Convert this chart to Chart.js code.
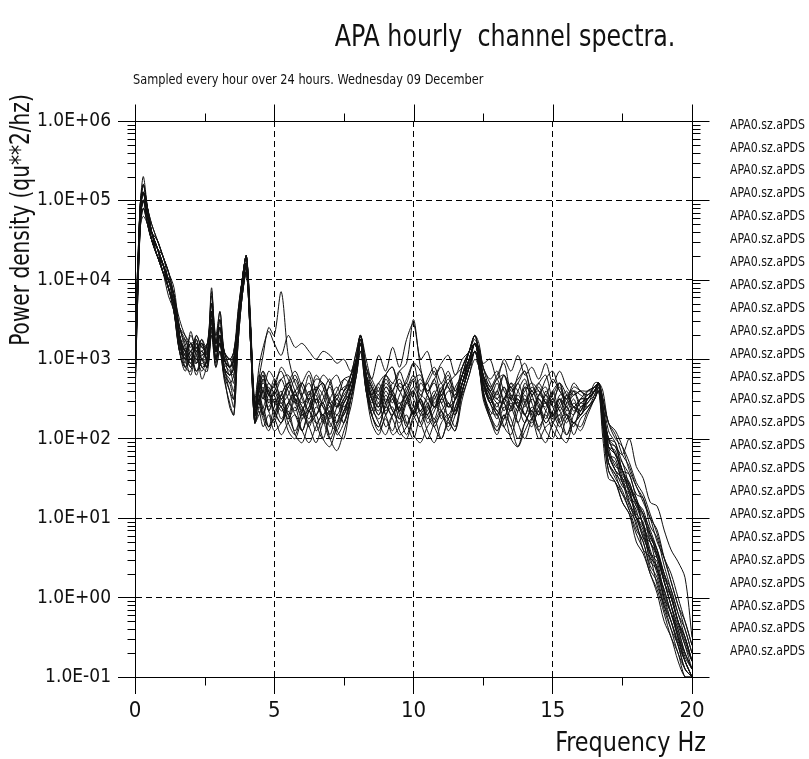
<!DOCTYPE html>
<html>
<head>
<meta charset="utf-8">
<script src="https://cdn.jsdelivr.net/npm/chart.js@4.4.0/dist/chart.umd.min.js"></script>
<style>
  html, body { margin: 0; padding: 0; background: #fff; }
  #wrap { position: relative; width: 809px; height: 759px; }
</style>
</head>
<body>
<div id="wrap"><canvas id="myChart"></canvas></div>
<script>
// frequency axis (Hz), shared by all hourly spectra
const freqs = [0, 0.1, 0.2, 0.3, 0.45, 0.6, 0.8, 1.0, 1.2, 1.4,
  1.6, 1.8, 2.0, 2.2, 2.4, 2.6, 2.75, 2.9, 3.05, 3.2,
  3.4, 3.55, 3.7, 3.85, 4.0, 4.15, 4.3, 4.45, 4.6, 4.8,
  5.0, 5.25, 5.5, 5.75, 6.0, 6.25, 6.5, 6.75, 7.0, 7.25,
  7.5, 7.75, 7.95, 8.1, 8.3, 8.5, 8.75, 9.0, 9.25, 9.5,
  9.75, 10.0, 10.25, 10.5, 10.75, 11.0, 11.25, 11.5, 11.75, 12.0,
  12.2, 12.35, 12.5, 12.75, 13.0, 13.25, 13.5, 13.75, 14.0, 14.25,
  14.5, 14.75, 15.0, 15.25, 15.5, 15.75, 16.0, 16.25, 16.5, 16.65,
  16.8, 17.0, 17.25, 17.5, 17.75, 18.0, 18.25, 18.5, 18.75, 19.0,
  19.25, 19.5, 19.75, 20.0];

// log10 of power density, one array per hour
const h01 = [2.6,3.9,4.8,5.2,4.9,4.6,4.4,4.2,3.9,3.7, 3.3,3.0,3.35,3.1,3.25,2.95,3.7,3.2,3.5,3.05, 2.8,3.0,3.5,3.9,4.2,3.4,2.4,2.9,3.15,3.35, 3.2,3.05,3.3,3.15,3.2,3.1,3.0,3.1,3.05,2.95, 3.0,2.85,3.1,3.3,3.0,2.75,3.05,2.85,3.15,2.9, 3.25,3.45,3.0,3.1,2.8,2.95,3.05,2.8,3.0,3.1, 3.3,3.1,2.95,3.0,2.75,3.0,2.85,3.05,2.8,2.9, 2.75,2.95,2.7,2.85,2.65,2.55,2.6,2.5,2.6,2.7, 2.4,2.0,1.9,1.8,2.0,1.65,1.5,1.2,1.15,0.85, 0.6,0.45,0.25,-0.5];
const h02 = [3.0,4.1,5.0,5.1,4.8,4.5,4.4,4.1,4.0,3.7, 3.4,3.15,3.0,2.95,3.2,3.05,3.55,3.1,3.3,2.85, 2.75,2.6,3.4,3.9,4.2,3.2,2.3,2.75,3.05,3.4, 3.3,3.85,3.05,2.7,2.55,2.8,2.45,2.6,2.75,2.4, 2.6,2.8,3.0,3.2,2.7,2.45,2.65,2.3,2.6,2.75, 2.5,2.35,2.7,2.55,2.4,2.6,2.8,2.5,2.7,2.95, 3.2,3.0,2.7,2.45,2.6,2.8,2.5,2.35,2.65,2.55, 2.3,2.6,2.45,2.7,2.35,2.5,2.3,2.45,2.55,2.7, 2.2,1.8,1.75,1.45,1.35,1.05,0.95,0.55,0.45,0.05, -0.2,-0.45,-0.75,-0.9];
const h03 = [2.8,4.0,4.9,5.0,4.8,4.6,4.4,4.2,4.0,3.8, 3.2,2.9,2.85,3.25,2.9,3.0,3.85,3.2,3.6,3.1, 2.9,2.7,3.4,3.9,4.2,3.3,2.2,2.55,2.35,2.15, 2.4,2.55,2.3,2.1,2.35,2.5,2.2,2.0,2.3,2.45, 2.2,2.6,2.9,3.2,2.7,2.3,2.15,2.45,2.6,2.3, 2.05,2.3,2.5,2.2,2.35,2.55,2.25,2.1,2.6,2.9, 3.1,2.95,2.6,2.3,2.45,2.15,2.05,2.35,2.55,2.3, 2.1,2.35,2.5,2.2,2.05,2.3,2.45,2.4,2.55,2.7, 2.3,1.7,1.55,1.45,1.15,1.0,0.85,0.45,0.35,-0.05, -0.3,-0.55,-0.8,-1.0];
const h04 = [3.2,4.2,5.0,5.3,4.9,4.6,4.3,4.2,3.9,3.7, 3.3,3.1,2.9,3.3,3.15,3.2,3.45,2.95,3.25,2.9, 2.8,2.9,3.5,4.0,4.3,3.4,2.4,2.45,2.75,2.6, 2.3,2.55,2.7,2.45,2.3,2.5,2.65,2.4,2.25,2.5, 2.35,2.6,3.0,3.3,2.8,2.55,2.4,2.75,2.55,2.35, 2.6,2.75,2.45,2.3,2.55,2.7,2.4,2.5,2.8,3.1, 3.25,3.1,2.75,2.5,2.7,2.45,2.35,2.6,2.75,2.45, 2.3,2.55,2.4,2.2,2.45,2.6,2.45,2.55,2.6,2.7, 2.3,1.9,1.85,1.5,1.45,1.15,1.05,0.7,0.55,0.25, 0.05,-0.3,-0.55,-0.8];
const h05 = [2.5,3.8,4.7,4.9,4.8,4.5,4.4,4.2,4.0,3.8, 3.1,2.85,3.05,2.8,3.0,2.95,3.35,3.0,3.1,2.75, 2.45,2.3,3.2,3.8,4.1,3.2,2.2,2.35,2.15,2.3, 2.1,2.2,2.35,2.05,1.95,2.2,2.3,2.0,1.9,2.15, 2.3,2.5,2.9,3.2,2.6,2.2,2.05,2.3,2.4,2.1, 2.0,2.25,2.35,2.1,1.95,2.2,2.3,2.15,2.6,2.9, 3.1,2.95,2.55,2.25,2.1,2.3,2.0,1.9,2.2,2.35, 2.1,1.95,2.2,2.3,2.05,2.2,2.15,2.35,2.5,2.65, 2.2,1.6,1.45,1.3,1.1,0.85,0.7,0.35,0.2,-0.15, -0.4,-0.6,-0.9,-1.0];
const h06 = [3.0,4.1,4.9,5.1,4.9,4.7,4.5,4.3,4.1,3.8, 3.4,3.3,3.15,3.25,3.05,3.2,3.6,3.3,3.4,3.1, 3.0,3.1,3.5,4.0,4.3,3.5,2.3,2.65,2.8,2.55, 2.7,2.85,2.6,2.45,2.7,2.55,2.8,2.65,2.4,2.6, 2.75,2.7,3.0,3.3,2.9,2.65,2.5,2.8,2.9,2.6, 2.75,2.95,2.6,2.7,2.85,2.55,2.7,2.8,2.9,3.1, 3.2,3.15,2.9,2.65,2.8,2.95,2.6,2.7,2.85,2.55, 2.7,2.8,2.5,2.65,2.4,2.6,2.55,2.5,2.7,2.7, 2.5,2.1,1.95,1.7,1.55,1.3,1.25,0.9,0.75,0.4, 0.1,-0.2,-0.4,-0.7];
const h07 = [2.7,3.9,4.8,5.0,4.7,4.5,4.3,4.1,3.9,3.6, 3.2,3.05,2.9,3.0,2.85,3.05,3.9,3.1,3.3,2.95, 2.85,2.8,3.4,3.9,4.2,3.3,2.3,2.5,2.3,2.55, 2.35,2.2,2.45,2.3,2.1,2.35,2.5,2.25,2.0,2.2, 2.45,2.6,2.9,3.25,2.7,2.35,2.55,2.3,2.1,2.4, 2.55,2.3,2.15,2.4,2.6,2.35,2.2,2.4,2.7,3.0, 3.2,3.0,2.65,2.45,2.25,2.5,2.4,2.2,2.45,2.6, 2.4,2.2,2.35,2.5,2.3,2.15,2.4,2.45,2.6,2.7, 2.3,1.85,1.6,1.5,1.35,1.0,0.9,0.6,0.35,0.1, -0.2,-0.5,-0.7,-0.9];
const h08 = [3.3,4.2,5.0,5.1,4.9,4.6,4.4,4.2,4.0,3.8, 3.3,2.95,3.2,3.05,2.9,2.85,3.4,3.0,3.2,3.0, 3.0,2.9,3.6,4.0,4.2,3.4,2.5,2.8,2.55,2.4, 2.6,2.75,2.5,2.35,2.55,2.7,2.45,2.3,2.5,2.65, 2.45,2.8,3.0,3.2,2.8,2.5,2.35,2.6,2.45,2.7, 2.55,2.3,2.5,2.7,2.4,2.55,2.65,2.35,2.7,3.0, 3.2,3.1,2.8,2.55,2.4,2.65,2.5,2.7,2.45,2.3, 2.55,2.65,2.4,2.5,2.25,2.45,2.35,2.6,2.65,2.7, 2.4,1.9,1.8,1.55,1.4,1.25,0.9,0.8,0.5,0.2, -0.1,-0.35,-0.6,-0.8];
const h09 = [2.9,4.0,4.8,4.9,4.7,4.5,4.3,4.1,3.9,3.6, 3.1,3.0,2.8,3.1,2.75,2.95,3.3,2.9,3.1,2.8, 2.7,2.5,3.2,3.8,4.1,3.2,2.3,2.4,2.25,2.1, 2.3,2.45,2.2,2.05,2.3,2.15,1.95,2.2,2.35,2.1, 2.0,2.5,2.8,3.1,2.6,2.4,2.2,2.05,2.3,2.45, 2.2,2.0,2.3,2.4,2.15,2.0,2.25,2.35,2.55,2.8, 3.1,2.9,2.55,2.3,2.1,2.25,2.45,2.2,2.0,2.25, 2.35,2.1,2.0,2.25,2.3,2.05,2.25,2.35,2.5,2.6, 2.2,1.7,1.5,1.35,1.1,0.95,0.6,0.5,0.15,-0.1, -0.4,-0.7,-0.9,-1.0];
const h10 = [2.6,4.0,4.9,5.1,4.8,4.6,4.4,4.2,3.9,3.7, 3.2,3.25,3.05,3.15,3.0,3.1,3.6,3.1,3.5,3.0, 2.9,3.0,3.5,3.9,4.2,3.3,2.4,2.7,2.85,2.55, 2.75,2.5,2.65,2.8,2.55,2.35,2.6,2.7,2.45,2.3, 2.5,2.7,3.0,3.3,2.8,2.65,2.45,2.7,2.6,2.85, 2.95,3.5,2.9,2.6,2.75,2.45,2.6,2.55,2.8,3.0, 3.2,3.05,2.8,2.6,2.75,2.5,2.65,2.4,2.7,2.55, 2.65,2.45,2.6,2.35,2.55,2.6,2.4,2.5,2.6,2.7, 2.4,2.0,1.95,1.6,1.55,1.25,1.05,0.85,0.6,0.3, 0.1,-0.2,-0.5,-0.8];
const h11 = [3.1,4.1,4.9,5.0,4.8,4.5,4.4,4.2,4.0,3.7, 3.3,3.1,2.95,3.05,3.2,2.95,3.5,3.1,3.3,2.9, 2.8,2.9,3.4,4.0,4.3,3.3,2.3,2.5,2.65,2.35, 2.5,2.25,2.45,2.6,2.3,2.4,2.55,2.2,2.35,2.5, 2.3,2.7,3.0,3.2,2.7,2.5,2.3,2.55,2.35,2.2, 2.45,2.6,2.3,2.35,2.55,2.25,2.45,2.3,2.6,2.9, 3.2,3.0,2.7,2.55,2.3,2.5,2.35,2.55,2.4,2.6, 2.45,2.25,2.5,2.35,2.2,2.4,2.35,2.5,2.6,2.7, 2.3,1.8,1.7,1.45,1.25,1.1,0.75,0.7,0.35,0.1, -0.2,-0.4,-0.7,-0.9];
const h12 = [2.8,3.9,4.8,5.0,4.9,4.6,4.4,4.1,4.0,3.8, 3.3,3.1,3.2,2.95,3.05,3.1,3.7,3.2,3.3,3.0, 2.9,3.0,3.4,3.9,4.2,3.3,2.4,2.6,2.75,2.45, 2.6,2.4,2.65,2.5,2.35,2.6,2.3,2.45,2.15,2.4, 2.55,2.7,3.0,3.25,2.8,2.6,2.4,2.65,2.5,2.35, 2.65,2.4,2.55,2.45,2.25,2.5,2.4,2.65,2.8,3.0, 3.2,3.1,2.8,2.45,2.6,2.35,2.55,2.4,2.65,2.25, 2.5,2.35,2.25,2.5,2.4,2.3,2.5,2.5,2.6,2.7, 2.3,1.9,1.65,1.6,1.3,1.15,0.9,0.55,0.5,0.2, -0.1,-0.5,-0.8,-1.0];
const h13 = [3.0,4.0,4.9,5.1,4.8,4.6,4.5,4.3,4.1,3.8, 3.4,3.2,3.0,3.15,3.1,3.0,3.6,3.0,3.4,3.0, 3.0,3.0,3.5,4.0,4.3,3.4,2.3,2.7,2.5,2.65, 2.45,2.6,2.3,2.55,2.4,2.25,2.5,2.4,2.3,2.55, 2.4,2.6,3.0,3.3,2.8,2.5,2.6,2.35,2.5,2.25, 2.5,2.6,2.35,2.5,2.4,2.65,2.4,2.5,2.8,3.1, 3.3,3.1,2.8,2.6,2.5,2.65,2.4,2.5,2.3,2.5, 2.4,2.55,2.3,2.4,2.55,2.4,2.3,2.5,2.6,2.7, 2.4,2.0,1.8,1.7,1.4,1.2,1.05,0.75,0.6,0.3, 0.0,-0.3,-0.5,-0.8];
const h14 = [2.7,3.9,4.7,4.9,4.7,4.5,4.3,4.1,3.9,3.6, 3.1,2.9,3.1,2.85,3.0,2.9,3.4,3.0,3.2,2.8, 2.6,2.4,3.3,3.8,4.1,3.2,2.2,2.4,2.6,2.35, 2.2,2.5,2.25,2.4,2.1,2.35,2.2,2.3,2.05,2.3, 2.2,2.5,2.8,3.2,2.7,2.3,2.45,2.15,2.3,2.4, 2.15,2.4,2.2,2.45,2.2,2.3,2.15,2.4,2.6,2.9, 3.1,2.9,2.6,2.35,2.3,2.45,2.15,2.4,2.3,2.15, 2.4,2.2,2.3,2.15,2.3,2.2,2.3,2.4,2.5,2.6, 2.1,1.6,1.45,1.2,1.05,0.8,0.6,0.3,0.1,-0.2, -0.5,-0.7,-1.0,-1.0];
const h15 = [3.1,4.1,5.0,5.2,4.9,4.7,4.5,4.3,4.1,3.8, 3.5,3.3,3.2,3.1,3.25,3.1,3.6,3.2,3.4,3.1, 2.9,3.0,3.5,4.0,4.2,3.4,2.4,2.7,2.85,2.7, 2.65,2.9,2.75,2.55,2.7,2.85,2.6,2.45,2.7,2.8, 2.6,2.8,3.1,3.3,2.9,2.7,2.55,2.8,2.9,2.65, 2.7,2.95,2.85,2.6,2.75,2.9,2.65,2.55,2.9,3.1, 3.2,3.1,2.9,2.75,2.85,2.6,2.5,2.8,2.95,2.7, 2.55,2.75,2.85,2.6,2.5,2.7,2.6,2.55,2.65,2.7, 2.5,2.2,2.05,1.8,1.65,1.4,1.25,1.0,0.85,0.5, 0.2,-0.1,-0.3,-0.6];
const h16 = [2.9,4.0,4.8,5.0,4.8,4.5,4.3,4.2,4.0,3.7, 3.2,3.0,3.1,3.15,2.9,3.0,3.5,3.1,3.3,3.0, 2.9,3.0,3.4,3.9,4.2,3.3,2.3,2.6,2.4,2.6, 2.35,2.55,2.7,2.5,2.25,2.4,2.65,2.55,2.3,2.2, 2.45,2.6,2.9,3.2,2.8,2.55,2.7,2.45,2.3,2.55, 2.7,2.5,2.35,2.55,2.7,2.45,2.3,2.5,2.7,3.0, 3.2,3.0,2.7,2.55,2.35,2.5,2.7,2.45,2.3,2.55, 2.6,2.45,2.3,2.55,2.5,2.35,2.45,2.5,2.6,2.7, 2.6,2.2,2.1,1.9,1.6,1.4,1.2,1.0,0.7,0.5, 0.2,-0.1,-0.4,-0.7];
const h17 = [2.6,3.8,4.8,5.0,4.7,4.5,4.4,4.1,3.9,3.6, 3.1,3.05,2.95,3.2,3.0,2.9,3.5,3.0,3.2,2.9, 2.6,2.5,3.3,3.9,4.2,3.2,2.2,2.5,2.3,2.15, 2.25,2.4,2.1,2.0,2.25,2.35,2.1,2.25,2.4,2.05, 2.2,2.5,2.9,3.2,2.6,2.3,2.15,2.4,2.25,2.05, 2.15,2.35,2.2,2.0,2.2,2.35,2.1,2.3,2.6,2.9, 3.1,2.9,2.6,2.3,2.15,2.4,2.25,2.0,2.2,2.35, 2.15,2.3,2.1,2.0,2.25,2.2,2.3,2.4,2.5,2.65, 2.2,1.7,1.55,1.3,1.2,0.9,0.7,0.4,0.25,-0.1, -0.3,-0.6,-0.9,-1.0];
const h18 = [3.2,4.2,5.0,5.2,4.9,4.6,4.4,4.3,4.0,3.8, 3.3,3.05,3.3,3.15,3.2,3.0,3.6,3.1,3.3,3.0, 2.9,3.1,3.5,4.0,4.3,3.4,2.3,2.6,2.8,2.55, 2.55,2.75,2.8,2.6,2.45,2.55,2.75,2.7,2.5,2.4, 2.6,2.7,3.0,3.3,2.8,2.55,2.7,2.8,2.6,2.45, 2.55,2.75,2.8,2.55,2.45,2.6,2.75,2.6,2.8,3.1, 3.3,3.1,2.8,2.6,2.75,2.8,2.55,2.45,2.6,2.7, 2.6,2.45,2.55,2.7,2.55,2.4,2.5,2.6,2.6,2.7, 2.4,1.95,1.9,1.6,1.45,1.2,1.1,0.8,0.55,0.3, 0.0,-0.3,-0.5,-0.8];
const h19 = [2.8,4.0,4.9,5.1,4.8,4.6,4.3,4.2,3.9,3.7, 3.2,3.0,3.1,3.0,3.1,3.0,3.4,3.0,3.2,2.9, 2.8,2.9,3.4,3.9,4.2,3.3,2.3,2.45,2.3,2.5, 2.35,2.2,2.4,2.55,2.4,2.2,2.3,2.45,2.2,2.1, 2.35,2.6,2.9,3.2,2.7,2.4,2.25,2.4,2.55,2.35, 2.2,2.35,2.5,2.3,2.15,2.35,2.45,2.3,2.7,3.0, 3.2,3.0,2.7,2.45,2.3,2.15,2.4,2.5,2.3,2.2, 2.35,2.45,2.25,2.3,2.4,2.2,2.35,2.5,2.6,2.7, 2.3,1.8,1.6,1.5,1.2,1.0,0.75,0.55,0.3,0.0, -0.3,-0.6,-0.8,-1.0];
const h20 = [3.0,4.1,4.9,5.0,4.8,4.6,4.4,4.2,4.0,3.8, 3.3,3.1,3.2,3.2,3.0,3.2,3.7,3.2,3.4,3.1, 3.0,3.0,3.5,4.0,4.3,3.3,2.4,2.6,2.5,2.7, 2.55,2.35,2.45,2.6,2.7,2.45,2.3,2.5,2.65,2.4, 2.5,2.7,3.0,3.25,2.8,2.5,2.4,2.65,2.55,2.35, 2.5,2.65,2.45,2.3,2.5,2.6,2.45,2.35,2.7,3.0, 3.2,3.1,2.8,2.6,2.45,2.5,2.65,2.4,2.5,2.35, 2.55,2.45,2.3,2.45,2.6,2.4,2.5,2.5,2.6,2.7, 2.4,2.0,1.8,1.6,1.35,1.2,0.9,0.7,0.5,0.2, -0.1,-0.4,-0.7,-0.9];
const h21 = [2.5,3.8,4.7,4.8,4.7,4.5,4.3,4.1,3.8,3.6, 3.1,2.9,3.0,2.85,2.95,2.9,3.3,2.9,3.1,2.8, 2.4,2.3,3.2,3.8,4.1,3.2,2.2,2.3,2.4,2.15, 2.25,2.05,2.2,2.3,2.1,1.95,2.15,2.3,2.0,1.85, 2.1,2.4,2.8,3.1,2.6,2.3,2.1,2.25,2.05,2.15, 2.3,2.05,1.95,2.15,2.25,2.0,2.2,2.1,2.5,2.8, 3.0,2.9,2.5,2.25,2.05,2.3,2.15,1.9,2.1,2.25, 2.0,2.15,2.2,2.05,1.95,2.2,2.1,2.3,2.5,2.6, 2.0,1.5,1.45,1.2,1.05,0.7,0.55,0.3,0.05,-0.3, -0.5,-0.8,-1.0,-1.0];
const h22 = [3.0,4.1,4.9,5.1,4.9,4.6,4.5,4.3,4.1,3.9, 3.4,3.25,3.1,3.3,3.15,3.1,3.8,3.3,3.6,3.1, 3.0,3.1,3.6,4.0,4.3,3.4,2.4,2.7,2.6,2.85, 2.75,2.5,2.7,2.85,2.65,2.5,2.6,2.8,2.7,2.5, 2.75,2.8,3.0,3.3,2.9,2.75,2.6,2.8,2.7,2.85, 2.65,2.8,2.55,2.75,2.9,2.7,2.85,2.6,2.9,3.1, 3.3,3.2,2.9,2.7,2.55,2.8,2.65,2.75,2.85,2.6, 2.7,2.55,2.75,2.6,2.5,2.65,2.6,2.55,2.65,2.7, 2.5,2.2,2.0,1.9,1.7,1.45,1.3,1.05,0.8,0.5, 0.3,0.0,-0.3,-0.6];
const h23 = [2.7,3.9,4.8,5.0,4.8,4.5,4.3,4.1,3.9,3.7, 3.2,3.0,3.1,3.0,3.0,3.0,3.5,3.1,3.2,2.9, 2.7,2.8,3.4,3.9,4.2,3.3,2.3,2.5,2.6,2.35, 2.5,2.4,2.25,2.5,2.35,2.15,2.4,2.3,2.45,2.2, 2.35,2.6,2.9,3.2,2.7,2.5,2.3,2.5,2.35,2.25, 2.45,2.3,2.5,2.25,2.4,2.35,2.25,2.5,2.7,2.9, 3.1,3.0,2.7,2.5,2.35,2.25,2.5,2.4,2.2,2.4, 2.3,2.5,2.2,2.4,2.3,2.4,2.3,2.5,2.6,2.7, 2.2,1.8,1.6,1.4,1.3,1.0,0.8,0.5,0.4,0.0, -0.2,-0.5,-0.8,-1.0];
const h24 = [3.1,4.1,5.0,5.1,4.8,4.6,4.4,4.2,4.0,3.8, 3.3,3.1,3.2,3.1,3.1,3.2,3.6,3.1,3.3,3.0, 2.9,3.0,3.5,4.0,4.2,3.3,2.4,2.6,2.7,2.6, 2.65,2.45,2.55,2.75,2.5,2.35,2.6,2.7,2.45,2.55, 2.65,2.7,3.0,3.2,2.8,2.65,2.5,2.45,2.7,2.6, 2.45,2.6,2.75,2.55,2.4,2.5,2.7,2.5,2.8,3.0, 3.2,3.0,2.8,2.65,2.5,2.45,2.7,2.6,2.45,2.65, 2.5,2.4,2.6,2.7,2.45,2.55,2.6,2.6,2.65,2.7, 2.3,1.9,1.8,1.6,1.4,1.2,1.0,0.8,0.6,0.2, 0.0,-0.3,-0.6,-0.9];

const hourly = [h01, h02, h03, h04, h05, h06, h07, h08, h09, h10, h11, h12,
                h13, h14, h15, h16, h17, h18, h19, h20, h21, h22, h23, h24];
const seriesLabels = hourly.map(() => 'APA0.sz.aPDS');

// axis ticks
const xTicks = [0, 5, 10, 15, 20];
const xMinorTicks = [2.5, 7.5, 12.5, 17.5];
const yTickExps = [-1, 0, 1, 2, 3, 4, 5, 6];

const FONT = '"Liberation Sans Narrow", "DejaVu Sans Condensed", "Arial Narrow", sans-serif';

function expLabel(v) {
  const e = Math.round(Math.log10(v));
  return '1.0E' + (e < 0 ? '-' : '+') + String(Math.abs(e)).padStart(2, '0');
}

// squeezed text, the original plot uses a narrow plotter font
function narrowText(ctx, text, x, y, size, sx, align, rot) {
  ctx.save();
  ctx.translate(x, y);
  if (rot) ctx.rotate(rot);
  ctx.scale(sx, 1);
  ctx.font = size + 'px ' + FONT;
  ctx.textAlign = align;
  ctx.textBaseline = 'middle';
  ctx.fillText(text, 0, 0);
  ctx.restore();
}

// frame, extra tick marks and the free text around the plot
const framePlugin = {
  id: 'framePlugin',
  beforeDraw(chart) {
    const ctx = chart.ctx;
    ctx.save();
    ctx.fillStyle = '#fff';
    ctx.fillRect(0, 0, chart.width, chart.height);
    ctx.restore();
  },
  afterDraw(chart) {
    const {ctx, chartArea: a, scales: {x, y}} = chart;
    const L = Math.round(a.left) + 0.5, R = Math.round(a.right) + 0.5;
    const T = Math.round(a.top) + 0.5, B = Math.round(a.bottom) + 0.5;
    ctx.save();
    ctx.strokeStyle = '#000';
    ctx.lineWidth = 1;
    ctx.beginPath();
    ctx.moveTo(L, T); ctx.lineTo(R, T); ctx.lineTo(R, B);
    // y ticks: minor left/right, major right
    yTickExps.forEach(e => {
      const py = Math.round(y.getPixelForValue(Math.pow(10, e))) + 0.5;
      ctx.moveTo(R, py); ctx.lineTo(R + 17, py);
      if (e === yTickExps[yTickExps.length - 1]) return;
      for (let k = 2; k <= 9; k++) {
        const p = Math.round(y.getPixelForValue(k * Math.pow(10, e))) + 0.5;
        ctx.moveTo(L - 8, p); ctx.lineTo(L, p);
        ctx.moveTo(R, p); ctx.lineTo(R + 8, p);
      }
    });
    // x ticks on top, minor ones on bottom
    xTicks.forEach(v => {
      const px = Math.round(x.getPixelForValue(v)) + 0.5;
      ctx.moveTo(px, T); ctx.lineTo(px, T - 17);
    });
    xMinorTicks.forEach(v => {
      const px = Math.round(x.getPixelForValue(v)) + 0.5;
      ctx.moveTo(px, T); ctx.lineTo(px, T - 8);
      ctx.moveTo(px, B); ctx.lineTo(px, B + 8);
    });
    ctx.stroke();

    ctx.fillStyle = '#111';
    narrowText(ctx, 'APA hourly  channel spectra.', 505, 38, 30, 0.88, 'center');
    narrowText(ctx, 'Sampled every hour over 24 hours. Wednesday 09 December', 133, 80, 14, 0.9, 'left');
    // legend, one line per hour
    chart.data.datasets.forEach((ds, i) => {
      narrowText(ctx, ds.label, 730, 125 + i * 22.9, 14, 0.87, 'left');
    });
    // axis titles
    narrowText(ctx, 'Frequency Hz', 706, 744, 27, 0.92, 'right');
    narrowText(ctx, 'Power density (qu**2/hz)', 22, 220, 26, 0.86, 'center', -Math.PI / 2);
    ctx.restore();
  }
};

const datasets = hourly.map((vals, i) => ({
  label: seriesLabels[i],
  data: freqs.map((f, j) => ({x: f, y: Math.pow(10, vals[j])})),
  borderColor: '#111',
  borderWidth: 1,
  pointRadius: 0,
  tension: 0.3,
  fill: false
}));

new Chart('myChart', {
  type: 'line',
  data: {datasets: datasets},
  options: {
    animation: false,
    responsive: true,
    maintainAspectRatio: false,
    events: [],
    layout: {padding: {top: 121, right: 117, bottom: 0, left: 0}},
    plugins: {legend: {display: false}, tooltip: {enabled: false}},
    scales: {
      x: {
        type: 'linear',
        min: 0,
        max: 20,
        afterBuildTicks: s => { s.ticks = xTicks.map(v => ({value: v})); },
        afterFit: s => { s.height = 82; },
        ticks: {autoSkip: false, maxRotation: 0, padding: 4, color: '#111',
                font: {family: FONT, size: 22}},
        grid: {
          color: c => (c.tick && c.tick.value > 0 && c.tick.value < 20) ? '#000' : 'rgba(0,0,0,0)',
          tickColor: '#000',
          tickLength: 17,
          lineWidth: 1
        },
        border: {color: '#000', width: 1, dash: [6, 4]}
      },
      y: {
        type: 'logarithmic',
        min: 0.1,
        max: 1e6,
        afterBuildTicks: s => { s.ticks = yTickExps.map(e => ({value: Math.pow(10, e)})); },
        afterFit: s => { s.width = 135; },
        ticks: {autoSkip: false, padding: 7, color: '#111',
                font: {family: FONT, size: 19},
                callback: v => expLabel(v)},
        grid: {
          color: c => (c.tick && c.tick.value > 0.2 && c.tick.value < 5e5) ? '#000' : 'rgba(0,0,0,0)',
          tickColor: '#000',
          tickLength: 17,
          lineWidth: 1
        },
        border: {color: '#000', width: 1, dash: [6, 4]}
      }
    }
  },
  plugins: [framePlugin]
});
</script>
</body>
</html>
